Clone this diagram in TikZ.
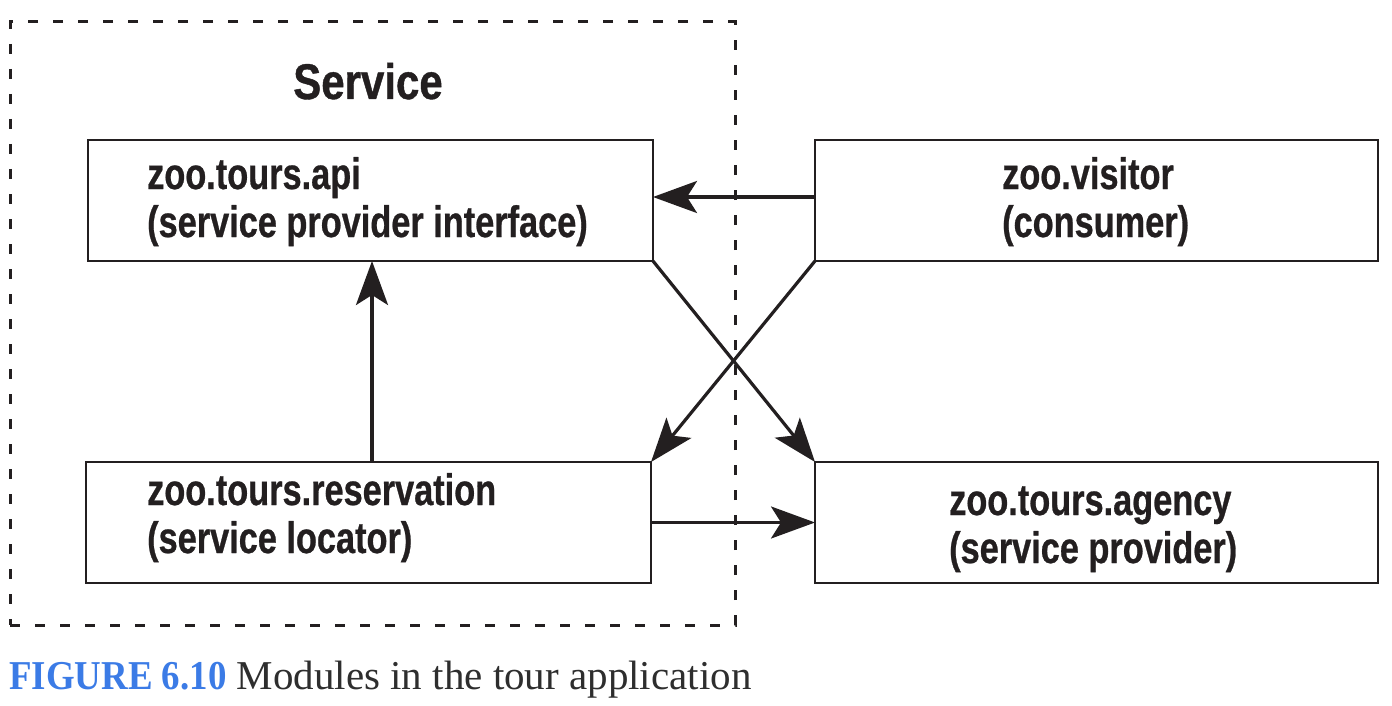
\documentclass[tikz,border=0pt]{standalone}
\usepackage{fontspec}
\setmainfont{Liberation Serif}
\newfontfamily\boxfont{Liberation Sans}[FakeStretch=0.78,FakeBold=0.6]
\newfontfamily\titlefont{Liberation Sans}[FakeStretch=0.84,FakeBold=0.8]
\newfontfamily\capboldfont{Liberation Serif}[FakeStretch=0.90]
\newfontfamily\capfont{Liberation Serif}[FakeStretch=1.0]
\usetikzlibrary{arrows.meta}
\definecolor{ink}{HTML}{231F20}
\definecolor{capblue}{HTML}{3B7BE6}
\definecolor{capgray}{HTML}{2E2E2E}
\tikzset{
  modbox/.style={draw=ink, line width=2.6pt, rectangle, inner sep=0pt, outer sep=0pt},
  modtext/.style={text=ink, font=\boxfont\bfseries\fontsize{44}{48}\selectfont, align=left, inner sep=0pt, anchor=base west},
  conn/.style={draw=ink, line width=3.2pt, -{Stealth[length=44pt,width=32pt,inset=10pt]}},
  group/.style={draw=ink, line width=3pt, dash pattern=on 10pt off 15pt, rectangle, inner sep=0pt}
}
\begin{document}
\begin{tikzpicture}[x=1pt,y=-1pt]
\useasboundingbox[fill=white] (0,0) rectangle (1392,706);
% group
\node[group, minimum width=725pt, minimum height=603pt] (svc) at (372.5,323.5) {};
\node[text=ink, font=\titlefont\bfseries\fontsize{50}{50}\selectfont, inner sep=0pt, anchor=base] (svctitle) at (368,99) {Service};
% boxes
\node[modbox, minimum width=565pt, minimum height=121pt] (api) at (370.5,200.5) {};
\node[modbox, minimum width=563pt, minimum height=121pt] (vis) at (1096.5,200.5) {};
\node[modbox, minimum width=565pt, minimum height=121pt] (res) at (368.5,522.5) {};
\node[modbox, minimum width=563pt, minimum height=121pt] (agn) at (1096.5,522.5) {};
% texts (anchor = baseline of the second line)
\node[modtext] (apit) at (147,237) {zoo.tours.api\\(service provider interface)};
\node[modtext] (vist) at (1002,237) {zoo.visitor\\(consumer)};
\node[modtext] (rest) at (147,553) {zoo.tours.reservation\\(service locator)};
\node[modtext] (agnt) at (949,563) {zoo.tours.agency\\(service provider)};
% connectors
\draw[conn] ([yshift=3.5pt]vis.west) -- ([yshift=3.5pt]vis.west -| api.east);
\draw[conn] (api.south east) -- (agn.north west);
\draw[conn] (vis.south west) -- (res.north east);
\draw[conn] ([xshift=3.5pt]res.north) -- ([xshift=3.5pt]res.north |- api.south);
\draw[conn] (res.east) -- (res.east -| agn.west);
% caption
\node[inner sep=0pt, anchor=base west, font=\fontsize{41}{41}\selectfont] (cap) at (9,689) {\textcolor{capblue}{\capboldfont\bfseries FIGURE 6.10} \textcolor{capgray}{\capfont Modules in the tour application}};
\end{tikzpicture}
\end{document}
